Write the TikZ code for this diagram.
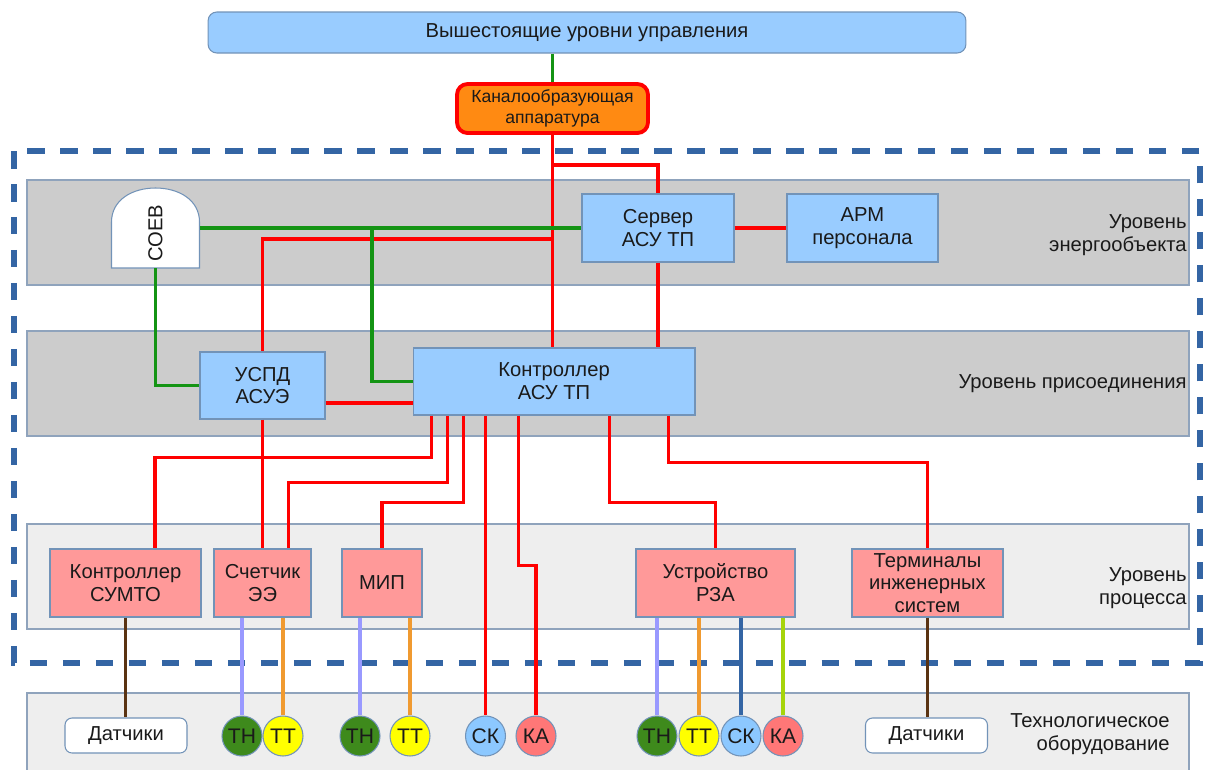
\documentclass[tikz,border=0pt]{standalone}
\usepackage{fontspec}
\setmainfont{Liberation Sans}
\usetikzlibrary{positioning,calc}

\definecolor{boxblue}{HTML}{99CCFF}
\definecolor{boxedge}{HTML}{7293B8}
\definecolor{bandgray}{HTML}{CCCCCC}
\definecolor{bandlight}{HTML}{EEEEEE}
\definecolor{bandedge}{HTML}{8FA3BC}
\definecolor{devpink}{HTML}{FF9999}
\definecolor{kanorange}{HTML}{FF8A12}
\definecolor{linkred}{HTML}{FF0000}
\definecolor{linkgreen}{HTML}{149414}
\definecolor{framedash}{HTML}{3465A4}
\definecolor{tngreen}{HTML}{3E8A1C}
\definecolor{ttyellow}{HTML}{FFFF00}
\definecolor{ckblue}{HTML}{8CC8FF}
\definecolor{kared}{HTML}{FF7777}
\definecolor{wirelav}{HTML}{9999FF}
\definecolor{wireorange}{HTML}{F09A30}
\definecolor{wireblue}{HTML}{3465A4}
\definecolor{wirelime}{HTML}{A6D40A}
\definecolor{wirebrown}{HTML}{5A3312}
\definecolor{textdark}{HTML}{1A1A1A}

\tikzset{
  every node/.style={font=\fontsize{11.5}{13}\selectfont, text=textdark},
  band/.style={draw=bandedge, line width=0.6pt},
  bluebox/.style={draw=boxedge, fill=boxblue, line width=0.6pt, align=center, inner sep=2pt},
  pinkbox/.style={draw=boxedge, fill=devpink, line width=0.6pt, align=center, inner sep=2pt, minimum height=1.36cm},
  sensor/.style={circle, draw=boxedge, line width=0.6pt, minimum size=0.8cm, inner sep=0pt, font=\fontsize{12}{14}\selectfont},
  gauge/.style={draw=boxedge, fill=white, line width=0.6pt, rounded corners=4pt, minimum width=2.44cm, minimum height=0.7cm},
  redlink/.style={draw=linkred, line width=2.2pt},
  greenlink/.style={draw=linkgreen, line width=2.2pt},
  wire/.style={line width=1.8pt},
  lvl/.style={anchor=east, align=right, inner sep=0pt},
}

\begin{document}
\begin{tikzpicture}[x=0.02cm, y=-0.02cm]
\useasboundingbox (0,0) rectangle (1225,769);

% Level bands
\draw[band, fill=bandgray] (27,180) rectangle (1189,285);
\draw[band, fill=bandgray] (27,331) rectangle (1189,436);
\draw[band, fill=bandlight] (27,524) rectangle (1189,629);
\draw[band, fill=bandlight] (27,693) rectangle (1189,790);

% Substation boundary
\draw[framedash, line width=0.13cm, dash pattern=on 0.35cm off 0.31cm] (14,151) rectangle (1200,663);

% Level labels
\node[lvl] (lvlobj) at (1187,235) {Уровень\\энергообъекта};
\node[lvl] (lvlcon) at (1187,384) {Уровень присоединения};
\node[lvl] (lvlproc) at (1187,588) {Уровень\\процесса};
\node[lvl] (lvltech) at (1170,734) {Технологическое\\оборудование};

% Upper levels and channel equipment
\node[bluebox, rounded corners=5pt, minimum width=15.16cm, minimum height=0.82cm] (upper) at (587,32.5) {Вышестоящие уровни управления};
\node[draw=linkred, line width=2.2pt, fill=kanorange, rounded corners=6pt, minimum width=3.82cm, minimum height=0.98cm, align=center, inner sep=1pt, font=\fontsize{10}{12}\selectfont] (kan) at (552.5,108.5) {Каналообразующая\\аппаратура};

% Energy object level
\filldraw[draw=boxedge, fill=white, line width=0.6pt] (111.5,268) -- (111.5,222) .. controls (111.5,200) and (132,188) .. (155.5,188) .. controls (179,188) and (199.5,200) .. (199.5,222) -- (199.5,268) -- cycle;
\node[minimum width=1.76cm, minimum height=1.6cm, inner sep=0pt] (soev) at (155.5,228) {};
\node[rotate=90] (soevtxt) at (155.5,233) {СОЕВ};
\node[bluebox, minimum width=3.04cm, minimum height=1.36cm] (srv) at (658,228) {Сервер\\АСУ ТП};
\node[bluebox, minimum width=3.02cm, minimum height=1.36cm] (arm) at (862.5,228) {АРМ\\персонала};

% Bay level
\node[bluebox, minimum width=2.5cm, minimum height=1.34cm] (uspd) at (262.5,385.5) {УСПД\\АСУЭ};
\node[bluebox, minimum width=5.64cm, minimum height=1.34cm] (ctrl) at (554,381.5) {Контроллер\\АСУ ТП};

% Process level
\node[pinkbox, minimum width=3.02cm] (sumto) at (125.5,583) {Контроллер\\СУМТО};
\node[pinkbox, minimum width=1.94cm] (sch) at (262.5,583) {Счетчик\\ЭЭ};
\node[pinkbox, minimum width=1.6cm] (mip) at (382,583) {МИП};
\node[pinkbox, minimum width=3.18cm] (rza) at (715.5,583) {Устройство\\РЗА};
\node[pinkbox, minimum width=3.02cm] (term) at (927.5,583) {Терминалы\\инженерных\\систем};

% Equipment
\node[gauge] (gauge1) at (126,735.5) {Датчики};
\node[gauge] (gauge2) at (926.5,735.5) {Датчики};
\node[sensor, fill=tngreen] (tn1) at (242,736) {ТН};
\node[sensor, fill=ttyellow] (tt1) at (283,736) {ТТ};
\node[sensor, fill=tngreen] (tn2) at (360,736) {ТН};
\node[sensor, fill=ttyellow] (tt2) at (410,736) {ТТ};
\node[sensor, fill=ckblue] (ck1) at (485.5,736) {СК};
\node[sensor, fill=kared] (ka1) at (536,736) {КА};
\node[sensor, fill=tngreen] (tn3) at (657,736) {ТН};
\node[sensor, fill=ttyellow] (tt3) at (699,736) {ТТ};
\node[sensor, fill=ckblue] (ck2) at (741,736) {СК};
\node[sensor, fill=kared] (ka2) at (783,736) {КА};

% Red links
\draw[redlink] (kan.south) -- (kan.south |- ctrl.north);
\coordinate (rsplit) at (552.5,165);
\draw[redlink] (rsplit) -| (srv.north);
\draw[redlink] (srv.east) -- (arm.west);
\draw[redlink] (srv.south) -- (srv.south |- ctrl.north);
\coordinate (rsplit2) at (552.5,239);
\draw[redlink] (rsplit2) -| (uspd.north);
\draw[redlink] ([yshift=-0.35cm]uspd.east) -- ([yshift=-0.35cm]uspd.east -| ctrl.west);
\draw[redlink] (uspd.south) -- (uspd.south |- sch.north);
\draw[redlink] ([xshift=0.38cm]ctrl.south west) -- ++(0,42) -| ([xshift=0.59cm]sumto.north);
\draw[redlink] ([xshift=0.7cm]ctrl.south west) -- ++(0,67) -| ([xshift=0.52cm]sch.north);
\draw[redlink] ([xshift=1.02cm]ctrl.south west) -- ++(0,87) -| (mip.north);
\draw[redlink] (ck1.north |- ctrl.south) -- (ck1.north);
\draw[redlink] ([xshift=2.12cm]ctrl.south west) -- ++(0,150) -| (ka1.north);
\draw[redlink] ([xshift=3.94cm]ctrl.south west) -- ++(0,87) -| (rza.north);
\draw[redlink] ([xshift=5.12cm]ctrl.south west) -- ++(0,47) -| (term.north);

% Green links (time sync)
\draw[greenlink] (upper.south -| kan.north) -- (kan.north);
\coordinate (gsplit) at (372,228);
\draw[greenlink] (soev.east) -- (soev.east -| srv.west);
\draw[greenlink] (gsplit) |- (ctrl.west);
\draw[greenlink] (soev.south) |- (uspd.west);

% Process wires
\draw[wire, wirebrown] (sumto.south) -- (sumto.south |- gauge1.north);
\draw[wire, wirebrown] (term.south) -- (term.south |- gauge2.north);
\draw[wire, wirelav] (tn1.north) -- (tn1.north |- sch.south);
\draw[wire, wireorange] (tt1.north) -- (tt1.north |- sch.south);
\draw[wire, wirelav] (tn2.north) -- (tn2.north |- mip.south);
\draw[wire, wireorange] (tt2.north) -- (tt2.north |- mip.south);
\draw[wire, wirelav] (tn3.north) -- (tn3.north |- rza.south);
\draw[wire, wireorange] (tt3.north) -- (tt3.north |- rza.south);
\draw[wire, wireblue] (ck2.north) -- (ck2.north |- rza.south);
\draw[wire, wirelime] (ka2.north) -- (ka2.north |- rza.south);

\end{tikzpicture}
\end{document}
